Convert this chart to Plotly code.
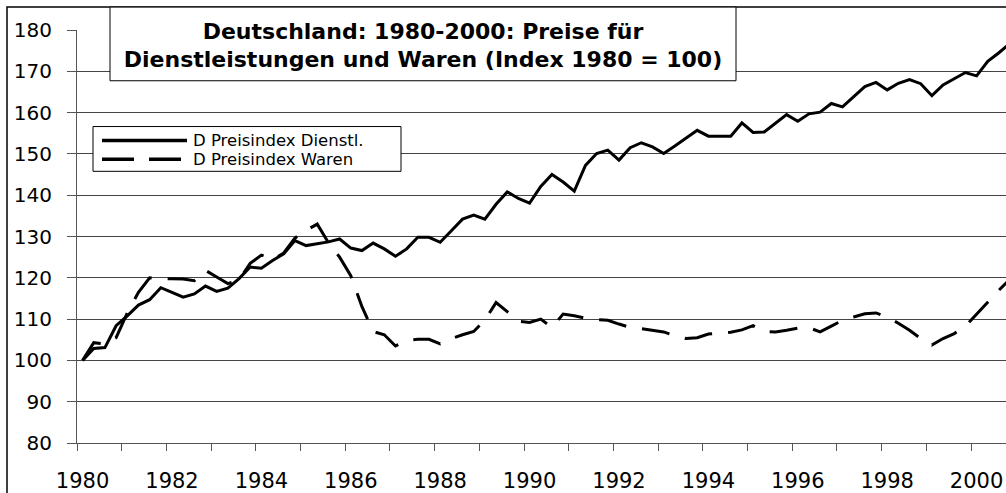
import plotly.graph_objects as go

# ---------------- data ----------------
years = list(range(1980, 2001))
quarters = [f"{y}Q{q}" for y in range(1980, 2001) for q in range(1, 5)]

dienstl = [100, 102.9, 103.1, 108.4, 110.8, 113.4, 114.7, 117.6,
           116.5, 115.3, 116.1, 118, 116.7, 117.5, 119.8, 122.6,
           122.3, 124.2, 125.8, 129, 127.8, 128.2, 128.7, 129.4,
           127.2, 126.6, 128.4, 127, 125.2, 127, 129.8, 129.8,
           128.6, 131.4, 134.2, 135.2, 134.2, 137.8, 140.8, 139.2,
           138.1, 142.1, 145, 143.2, 141, 147.2, 150.1, 150.9,
           148.5, 151.5, 152.7, 151.7, 150.1, 151.9, 153.7, 155.7,
           154.3, 154.3, 154.3, 157.5, 155.2, 155.3, 157.5, 159.5,
           157.9, 159.7, 160.1, 162.2, 161.4, 163.9, 166.3, 167.3,
           165.5, 167.1, 168, 167, 164.1, 166.7, 168.1, 169.7,
           168.9, 172.4, 174.5, 176.8]

waren = [100, 104.3, 104, 105.5, 111.5, 116.5, 120, 119.7,
         119.8, 119.7, 119.3, 121.8, 120.2, 118.6, 119.5, 123.5,
         125.5, 124.4, 126, 129.6, 131.5, 133, 128.5, 125,
         120.5, 113, 107, 106.2, 103.5, 104.8, 105.1, 105.1,
         104, 105.3, 106.2, 107, 109.8, 114, 111.8, 109.5,
         109.2, 110, 108, 111.2, 110.8, 110.2, 109.9, 109.7,
         108.8, 108, 107.7, 107.3, 106.9, 106, 105.3, 105.5,
         106.4, 106.6, 106.8, 107.4, 108.4, 107, 106.9, 107.3,
         107.8, 107.9, 106.9, 108.3, 109.7, 110.5, 111.3, 111.5,
         110.5, 109, 107.3, 105.3, 103.7, 105.3, 106.5, 108.3,
         111.2, 114.3, 117, 119.7]

label_years = list(range(1980, 2001, 2))
y_ticks = list(range(80, 181, 10))

series_names = ["D Preisindex Dienstl.", "D Preisindex Waren"]
title_lines = ["Deutschland: 1980-2000: Preise für",
               "Dienstleistungen und Waren (Index 1980 = 100)"]

# ---------------- geometry helpers ----------------
W, H = 1006, 493
ML, MR, MT, MB = 77, 0, 30, 48
PW, PH = W - ML - MR, H - MT - MB
PX_PER_YEAR = 44.7


def qpos(label):
    y, q = label.split("Q")
    return int(y) + (int(q) - 0.5) / 4


xq = [qpos(q) for q in quarters[:len(dienstl)]]


def px(X):
    return (X - ML) / PW


def py(Y):
    return (H - MB - Y) / PH


FONT = "DejaVu Sans"

fig = go.Figure()
fig.add_trace(go.Scatter(x=xq, y=dienstl, mode="lines", name=series_names[0],
                         line=dict(color="black", width=3), showlegend=False))
fig.add_trace(go.Scatter(x=xq[:len(waren)], y=waren, mode="lines", name=series_names[1],
                         line=dict(color="black", width=3, dash="28px,16px"),
                         showlegend=False))

shapes = []
# outer chart border (extends beyond the visible area on right/bottom)
shapes.append(dict(type="rect", xref="paper", yref="paper",
                   x0=px(7), x1=px(1020), y0=py(510), y1=py(7),
                   line=dict(color="black", width=1.5), fillcolor="rgba(0,0,0,0)",
                   layer="above"))
# title box
shapes.append(dict(type="rect", xref="paper", yref="paper",
                   x0=px(110), x1=px(736), y0=py(81), y1=py(7),
                   line=dict(color="black", width=1), fillcolor="white", layer="above"))
# legend box
shapes.append(dict(type="rect", xref="paper", yref="paper",
                   x0=px(93), x1=px(401), y0=py(172), y1=py(127),
                   line=dict(color="black", width=1), fillcolor="white", layer="above"))
# legend samples
legend_y = [141, 160]
shapes.append(dict(type="line", xref="paper", yref="paper",
                   x0=px(102), x1=px(187), y0=py(legend_y[0]), y1=py(legend_y[0]),
                   line=dict(color="black", width=3.5), layer="above"))
shapes.append(dict(type="line", xref="paper", yref="paper",
                   x0=px(102), x1=px(187), y0=py(legend_y[1]), y1=py(legend_y[1]),
                   line=dict(color="black", width=3.5, dash="32px,15px"), layer="above"))

annotations = []
for name, Y in zip(series_names, legend_y):
    annotations.append(dict(text=name, xref="paper", yref="paper",
                            x=px(191), y=py(Y), xanchor="left", yanchor="middle",
                            showarrow=False,
                            font=dict(family=FONT, size=16.5, color="black")))

fig.update_layout(
    width=W, height=H,
    margin=dict(l=ML, r=MR, t=MT, b=MB),
    paper_bgcolor="white", plot_bgcolor="white",
    title=dict(text="<b>" + title_lines[0] + "</b><br><b>" + title_lines[1] + "</b>",
               x=px(423), xref="paper", xanchor="center",
               y=1 - 38.5 / H, yref="container", yanchor="middle",
               font=dict(family=FONT, size=22, color="black")),
    shapes=shapes,
    annotations=annotations,
    showlegend=False,
)

fig.update_xaxes(
    range=[1980, 1980 + PW / PX_PER_YEAR],
    tickmode="array",
    tickvals=[y + 0.125 for y in label_years],
    ticktext=[str(y) for y in label_years],
    ticks="", showgrid=False, zeroline=False,
    showline=True, linecolor="#555555", linewidth=1,
    tickfont=dict(family=FONT, size=21, color="black"),
    ticklabelstandoff=19,
    minor=dict(tickmode="array", tickvals=years, ticks="outside", ticklen=7,
               tickwidth=1, tickcolor="#555555", showgrid=False),
)

fig.update_yaxes(
    range=[80, 180],
    tickmode="array", tickvals=y_ticks, ticktext=[str(v) for v in y_ticks],
    ticks="outside", ticklen=9, tickwidth=1, tickcolor="#555555",
    showgrid=True, gridcolor="#444444", gridwidth=1, zeroline=False,
    showline=True, linecolor="#555555", linewidth=1,
    tickfont=dict(family=FONT, size=20, color="black"),
    ticklabelstandoff=11,
)

fig.write_html("out.html",
               config={"displayModeBar": False},
               post_script="document.body.style.margin='0';"
                           "document.body.style.overflow='hidden';")
